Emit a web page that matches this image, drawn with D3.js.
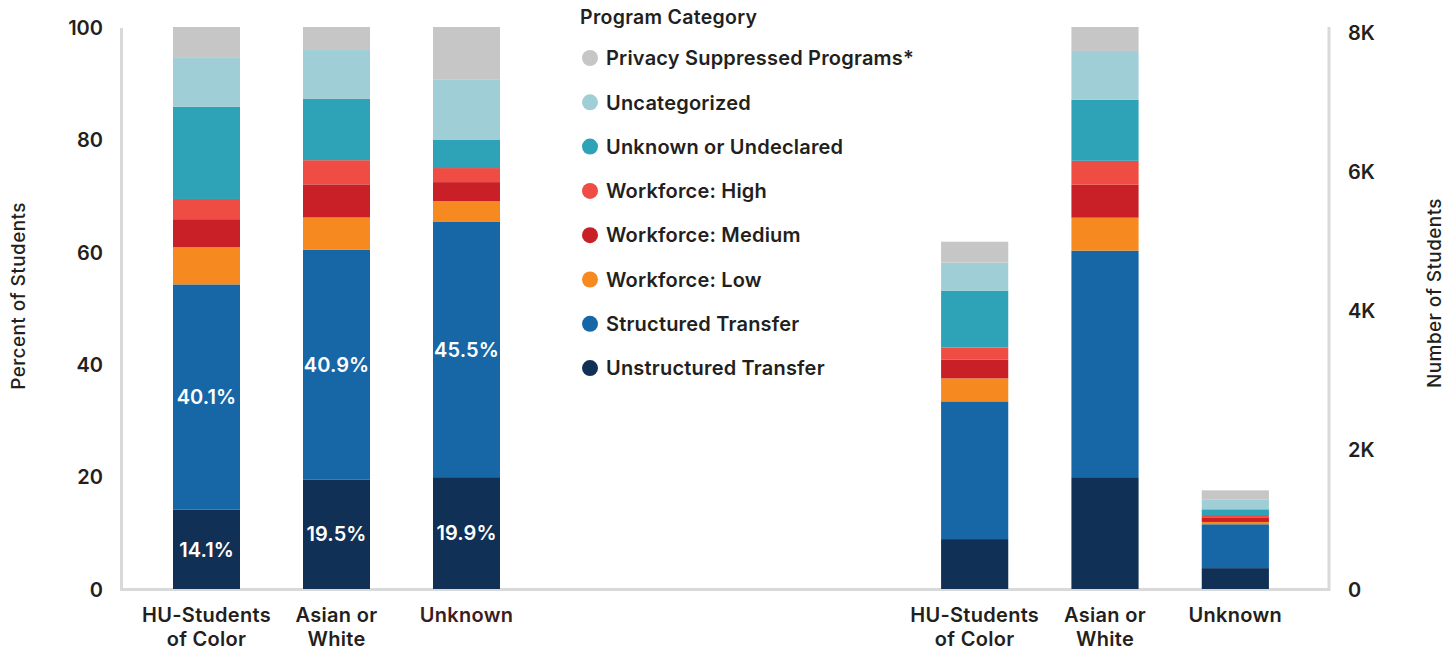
<!DOCTYPE html>
<html>
<head>
<meta charset="utf-8">
<script src="https://cdn.jsdelivr.net/npm/d3@7/dist/d3.min.js"></script>
<style>
  body { margin: 0; background: #fff; }
  svg text { font-family: Inter, "Noto Sans", sans-serif; fill: #231f20; }
</style>
</head>
<body>
<div id="chart"></div>
<script>
// program categories, bottom of stack first
var series = ['Unstructured Transfer', 'Structured Transfer', 'Workforce: Low', 'Workforce: Medium',
    'Workforce: High', 'Unknown or Undeclared', 'Uncategorized', 'Privacy Suppressed Programs*'];
var colors = ['#113056', '#1767a6', '#f68a21', '#c91f27', '#ef4c43', '#2ea3b8', '#a0ced6', '#c6c6c6'];

var groups = ['HU-Students of Color', 'Asian or White', 'Unknown'];
var groupLines = [['HU-Students', 'of Color'], ['Asian or', 'White'], ['Unknown']];

// percent of students (left panel)
var pctHU = [14.1, 40.1, 6.6, 5.0, 3.6, 16.4, 8.7, 5.5];
var pctAW = [19.5, 40.9, 5.7, 5.9, 4.3, 10.9, 8.7, 4.1];
var pctUnk = [19.9, 45.5, 3.6, 3.4, 2.5, 5.0, 10.7, 9.4];

// number of students (right panel)
var cntHU = [717, 1978, 330, 272, 172, 817, 401, 301];
var cntAW = [1606, 3254, 473, 473, 344, 875, 703, 344];
var cntUnk = [300, 630, 33, 67, 33, 82, 143, 129];

var pctTicks = [0, 20, 40, 60, 80, 100];
var cntTicks = [0, 2000, 4000, 6000, 8000];
var labelled = ['Unstructured Transfer', 'Structured Transfer'];

function rows(vals) {
    return groups.map(function(g, i) {
        var r = { group: g };
        series.forEach(function(s, j) { r[s] = vals[i][j]; });
        return r;
    });
}

var W = 1455, H = 650;
var svg = d3.select('#chart').append('svg').attr('width', W).attr('height', H);

var base = 589;
var yPct = d3.scaleLinear().domain([0, 100]).range([base, 27]);
var yCnt = d3.scaleLinear().domain([0, 8000]).range([base, 32]);

var xL = d3.scaleBand().domain(groups).range([141.5, 531.5]).paddingInner(63 / 130).paddingOuter(63 / 260);
var xR = d3.scaleBand().domain(groups).range([909.5, 1300.5]).paddingInner(63 / 130).paddingOuter(63 / 260);

var color = d3.scaleOrdinal().domain(series).range(colors);
var stack = d3.stack().keys(series);

// axis frame lines
svg.append('line').attr('x1', 120).attr('x2', 1330).attr('y1', base + 0.5).attr('y2', base + 0.5)
    .attr('stroke', '#d9d9da').attr('stroke-width', 3);
svg.append('line').attr('x1', 121.5).attr('x2', 121.5).attr('y1', 28).attr('y2', base + 2)
    .attr('stroke', '#d9d9da').attr('stroke-width', 3);
svg.append('line').attr('x1', 1329).attr('x2', 1329).attr('y1', 27).attr('y2', base + 2)
    .attr('stroke', '#d9d9da').attr('stroke-width', 3);

function drawBars(data, x, y, withLabels) {
    var layers = stack(data);
    var g = svg.append('g');
    var layer = g.selectAll('.layer')
        .data(layers)
        .enter().append('g')
        .attr('fill', function(d) { return color(d.key); });
    layer.selectAll('rect')
        .data(function(d) { return d; })
        .enter().append('rect')
        .attr('x', function(d) { return x(d.data.group); })
        .attr('y', function(d) { return y(d[1]); })
        .attr('width', x.bandwidth())
        .attr('height', function(d) { return y(d[0]) - y(d[1]); });

    if (withLabels) {
        layers.filter(function(l) { return labelled.indexOf(l.key) >= 0; }).forEach(function(l) {
            g.selectAll(null)
                .data(l)
                .enter().append('text')
                .attr('x', function(d) { return x(d.data.group) + x.bandwidth() / 2; })
                .attr('y', function(d) { return (y(d[0]) + y(d[1])) / 2; })
                .attr('dy', '0.36em')
                .attr('text-anchor', 'middle')
                .style('fill', '#fff')
                .style('font-size', '20px')
                .style('font-weight', 600)
                .style('letter-spacing', '0.1px')
                .text(function(d) { return (d[1] - d[0]).toFixed(1) + '%'; });
        });
    }

    // category labels
    var lab = svg.append('g').selectAll('text')
        .data(groups)
        .enter().append('text')
        .attr('text-anchor', 'middle')
        .attr('x', function(d) { return x(d) + x.bandwidth() / 2; })
        .attr('y', 622)
        .style('font-size', '20px')
        .style('font-weight', 600)
        .style('letter-spacing', '0.3px');
    lab.selectAll('tspan')
        .data(function(d, i) { return groupLines[i]; })
        .enter().append('tspan')
        .attr('x', function() { return d3.select(this.parentNode).attr('x'); })
        .attr('dy', function(d, i) { return i === 0 ? 0 : 24; })
        .text(function(d) { return d; });
    return lab;
}

drawBars(rows([pctHU, pctAW, pctUnk]), xL, yPct, true)
    .filter(function(d) { return d === 'Unknown'; })
    .style('fill', '#3b1d1d');
drawBars(rows([cntHU, cntAW, cntUnk]), xR, yCnt, false);

// left axis
var axL = svg.append('g')
    .attr('transform', 'translate(103,0)')
    .call(d3.axisLeft(yPct).tickValues(pctTicks).tickSize(0).tickPadding(0));
axL.select('.domain').remove();
axL.selectAll('text').style('font-size', '20px').style('font-weight', 600).attr('dy', '0.36em');

// right axis
var axR = svg.append('g')
    .attr('transform', 'translate(1348,0)')
    .call(d3.axisRight(yCnt).tickValues(cntTicks).tickSize(0).tickPadding(0)
        .tickFormat(function(d) { return d === 0 ? '0' : (d / 1000) + 'K'; }));
axR.select('.domain').remove();
axR.selectAll('text').style('font-size', '20px').style('font-weight', 600).attr('dy', '0.36em');
axR.selectAll('.tick').filter(function(d) { return d === 0; }).attr('transform', 'translate(0,' + (yPct(0) + 1) + ')');

// axis titles
svg.append('text')
    .attr('transform', 'translate(18,' + 296 + ') rotate(-90)')
    .attr('text-anchor', 'middle')
    .attr('dy', '0.36em')
    .style('font-size', '19px')
    .style('font-weight', 500)
    .style('letter-spacing', '0.4px')
    .text('Percent of Students');
svg.append('text')
    .attr('transform', 'translate(1434,' + 293 + ') rotate(-90)')
    .attr('text-anchor', 'middle')
    .attr('dy', '0.36em')
    .style('font-size', '19px')
    .style('font-weight', 500)
    .style('letter-spacing', '0.4px')
    .text('Number of Students');

// legend
var legend = svg.append('g');
legend.append('text')
    .attr('x', 580).attr('y', 17).attr('dy', '0.36em')
    .style('font-size', '19.5px').style('font-weight', 600).style('letter-spacing', '0.3px')
    .text('Program Category');
var items = legend.selectAll('.item')
    .data(series.slice().reverse())
    .enter().append('g')
    .attr('class', 'item')
    .attr('transform', function(d, i) { return 'translate(590,' + (58 + i * 44.3) + ')'; });
items.append('circle').attr('r', 8).attr('fill', function(d) { return color(d); });
items.append('text')
    .attr('x', 16).attr('dy', '0.36em')
    .style('font-size', '20px').style('font-weight', 600).style('letter-spacing', '0.2px')
    .text(function(d) { return d; });
</script>
</body>
</html>
